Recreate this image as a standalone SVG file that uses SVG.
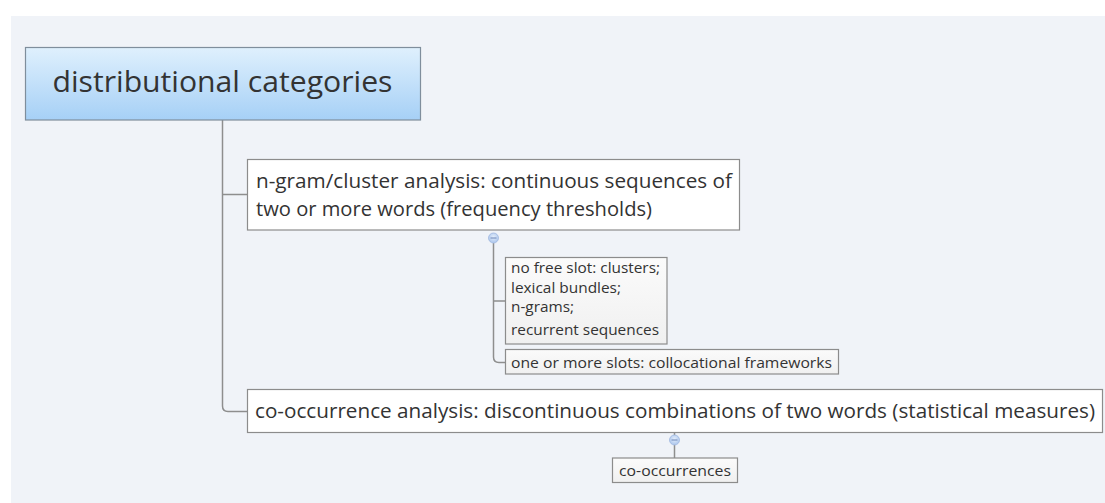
<svg xmlns="http://www.w3.org/2000/svg" width="1105" height="503" viewBox="0 0 1105 503">
  <defs>
    <linearGradient id="rootGrad" x1="0" y1="0" x2="0" y2="1">
      <stop offset="0" stop-color="#dff0fd"/>
      <stop offset="1" stop-color="#a6d0f6"/>
    </linearGradient>
    <linearGradient id="subGrad" x1="0" y1="0" x2="0" y2="1">
      <stop offset="0" stop-color="#fbfbfb"/>
      <stop offset="1" stop-color="#f0f0f0"/>
    </linearGradient>
    <radialGradient id="knobGrad" cx="0.5" cy="0.4" r="0.6">
      <stop offset="0" stop-color="#e4eefb"/>
      <stop offset="1" stop-color="#a9c4ec"/>
    </radialGradient>
  </defs>
  <style>
    text { font-family: "Open Sans", "Noto Sans", "DejaVu Sans", sans-serif; fill: #333333; }
    .conn { fill: none; stroke: #8e8e8e; stroke-width: 1.5; }
    .box { fill: #ffffff; stroke: #8c8c8c; stroke-width: 1.2; }
    .sub { fill: url(#subGrad); stroke: #8c8c8c; stroke-width: 1.2; }
    .knob { fill: url(#knobGrad); stroke: #9fb8e0; stroke-width: 0.8; }
    .knobmark { stroke: #6d86b8; stroke-width: 1; }
  </style>

  <rect x="0" y="0" width="1105" height="503" fill="#ffffff"/>
  <rect x="11" y="16" width="1094" height="487" fill="#f0f3f8"/>

  <g id="connectors">
    <path class="conn" d="M222.5 120 V406 Q222.5 411.5 228 411.5 H247"/>
    <path class="conn" d="M222.5 194.5 H247"/>
    <path class="conn" d="M493.5 243 V357 Q493.5 362.5 499 362.5 H505"/>
    <path class="conn" d="M493.5 301 H505"/>
    <path class="conn" d="M674.5 433 V458"/>
  </g>

  <g id="node-root">
    <rect x="25.5" y="47.5" width="395" height="72.5" fill="url(#rootGrad)" stroke="#7f8e9c" stroke-width="1.2"/>
    <text x="222.5" y="92" font-size="30" text-anchor="middle" textLength="340" lengthAdjust="spacingAndGlyphs">distributional categories</text>
  </g>

  <g id="node-ngram">
    <rect class="box" x="247.5" y="159.5" width="492" height="70.5"/>
    <text x="256" y="188" font-size="20" textLength="476" lengthAdjust="spacingAndGlyphs">n-gram/cluster analysis: continuous sequences of</text>
    <text x="256" y="216" font-size="20" textLength="396" lengthAdjust="spacingAndGlyphs">two or more words (frequency thresholds)</text>
    <circle class="knob" cx="493.5" cy="238" r="5"/>
    <line class="knobmark" x1="490.5" y1="238" x2="496.5" y2="238"/>
  </g>

  <g id="node-noslot">
    <rect class="sub" x="505.5" y="257.5" width="161.5" height="86.5"/>
    <text x="511" y="273" font-size="14.5" textLength="149" lengthAdjust="spacingAndGlyphs">no free slot: clusters;</text>
    <text x="511" y="293" font-size="14.5" textLength="110" lengthAdjust="spacingAndGlyphs">lexical bundles;</text>
    <text x="511" y="312" font-size="14.5" textLength="63" lengthAdjust="spacingAndGlyphs">n-grams;</text>
    <text x="511" y="335" font-size="14.5" textLength="148" lengthAdjust="spacingAndGlyphs">recurrent sequences</text>
  </g>

  <g id="node-slots">
    <rect class="sub" x="505.5" y="349.5" width="333" height="24.5"/>
    <text x="511" y="367.5" font-size="14.5" textLength="321" lengthAdjust="spacingAndGlyphs">one or more slots: collocational frameworks</text>
  </g>

  <g id="node-cooc-analysis">
    <rect class="box" x="247.5" y="389.5" width="855" height="43"/>
    <text x="675" y="418" font-size="20.5" text-anchor="middle" textLength="840" lengthAdjust="spacingAndGlyphs">co-occurrence analysis: discontinuous combinations of two words (statistical measures)</text>
    <circle class="knob" cx="674.5" cy="440" r="5"/>
    <line class="knobmark" x1="671.5" y1="440" x2="677.5" y2="440"/>
  </g>

  <g id="node-cooccurrences">
    <rect class="sub" x="612.5" y="458" width="125" height="24.5"/>
    <text x="675" y="476" font-size="14.5" text-anchor="middle" textLength="112" lengthAdjust="spacingAndGlyphs">co-occurrences</text>
  </g>
</svg>
